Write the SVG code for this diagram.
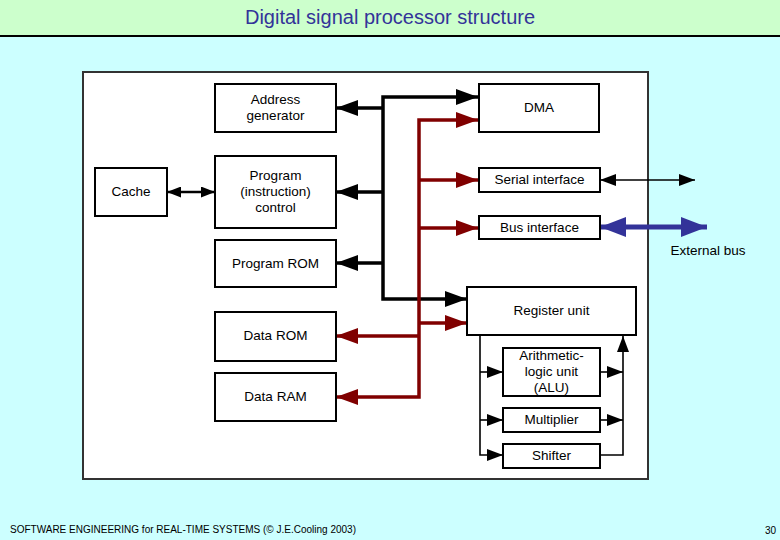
<svg xmlns="http://www.w3.org/2000/svg" width="780" height="540" viewBox="0 0 780 540">
<style>
text{font-family:"Liberation Sans",Arial,sans-serif;font-size:13.5px;fill:#000;text-anchor:middle;dominant-baseline:central}
.box{fill:#fff;stroke:#000;stroke-width:2}
.bk{fill:none;stroke:#000;stroke-width:3.5}
.rd{fill:none;stroke:#800000;stroke-width:3.5}
.th{fill:none;stroke:#000;stroke-width:1.6}
</style>
<defs>
<marker id="ab" markerUnits="userSpaceOnUse" viewBox="0 0 22 16" refX="22" refY="8" markerWidth="22" markerHeight="16" orient="auto-start-reverse"><path d="M0 0L22 8L0 16z" fill="#000"/></marker>
<marker id="ar" markerUnits="userSpaceOnUse" viewBox="0 0 22 16" refX="22" refY="8" markerWidth="22" markerHeight="16" orient="auto-start-reverse"><path d="M0 0L22 8L0 16z" fill="#800000"/></marker>
<marker id="at" markerUnits="userSpaceOnUse" viewBox="0 0 16 12" refX="16" refY="6" markerWidth="16" markerHeight="12" orient="auto-start-reverse"><path d="M0 0L16 6L0 12z" fill="#000"/></marker>
<marker id="ac" markerUnits="userSpaceOnUse" viewBox="0 0 14 11" refX="14" refY="5.5" markerWidth="14" markerHeight="11" orient="auto-start-reverse"><path d="M0 0L14 5.5L0 11z" fill="#000"/></marker>
<marker id="au" markerUnits="userSpaceOnUse" viewBox="0 0 26 20" refX="26" refY="10" markerWidth="26" markerHeight="20" orient="auto-start-reverse"><path d="M0 0L26 10L0 20z" fill="#333399"/></marker>
</defs>
<rect x="0" y="0" width="780" height="540" fill="#ccffff"/>
<rect x="0" y="0" width="780" height="36" fill="#ccffcc"/>
<line x1="0" y1="36" x2="780" y2="36" stroke="#000" stroke-width="2"/>
<text x="390" y="17" style="font-size:20px;fill:#333399">Digital signal processor structure</text>
<rect x="83" y="72" width="565" height="407" fill="#fff" stroke="#333" stroke-width="2"/>

<g id="connectors">
<path fill="none" stroke="#000" stroke-width="2.5" d="M167 192H215" marker-start="url(#ac)" marker-end="url(#ac)"/>
<path class="bk" d="M478 97H383V299H467" marker-start="url(#ab)" marker-end="url(#ab)"/>
<path class="bk" d="M383 108H336" marker-end="url(#ab)"/>
<path class="bk" d="M383 192H336" marker-end="url(#ab)"/>
<path class="bk" d="M383 263H336" marker-end="url(#ab)"/>
<path class="rd" d="M478 120H419V397H336" marker-start="url(#ar)" marker-end="url(#ar)"/>
<path class="rd" d="M419 180H478" marker-end="url(#ar)"/>
<path class="rd" d="M419 228H478" marker-end="url(#ar)"/>
<path class="rd" d="M419 323H467" marker-end="url(#ar)"/>
<path class="rd" d="M419 336H336" marker-end="url(#ar)"/>
<path class="th" d="M600 180H695" marker-start="url(#at)" marker-end="url(#at)"/>
<path fill="none" stroke="#333399" stroke-width="5" d="M600 227H707" marker-start="url(#au)" marker-end="url(#au)"/>
<path class="th" d="M480 335V455H503" marker-end="url(#at)"/>
<path class="th" d="M480 372H503" marker-end="url(#at)"/>
<path class="th" d="M480 420H503" marker-end="url(#at)"/>
<path class="th" d="M600 372H623" marker-end="url(#at)"/>
<path class="th" d="M600 420H623" marker-end="url(#at)"/>
<path class="th" d="M600 455H623V336" marker-end="url(#at)"/>
</g>

<g id="cache"><rect class="box" x="95" y="168" width="72" height="48"/><text x="131" y="191">Cache</text></g>
<g id="address-generator"><rect class="box" x="215" y="84" width="121" height="48"/><text x="275.5" y="99">Address</text><text x="275.5" y="115">generator</text></g>
<g id="program-control"><rect class="box" x="215" y="156" width="121" height="72"/><text x="275.5" y="175">Program</text><text x="275.5" y="191">(instruction)</text><text x="275.5" y="207">control</text></g>
<g id="program-rom"><rect class="box" x="215" y="240" width="121" height="47"/><text x="275.5" y="263">Program ROM</text></g>
<g id="data-rom"><rect class="box" x="215" y="312" width="121" height="49"/><text x="275.5" y="335">Data ROM</text></g>
<g id="data-ram"><rect class="box" x="215" y="373" width="121" height="48"/><text x="275.5" y="396">Data RAM</text></g>
<g id="dma"><rect class="box" x="479" y="84" width="120" height="48"/><text x="539" y="107">DMA</text></g>
<g id="serial-interface"><rect class="box" x="479" y="168" width="121" height="24"/><text x="539.5" y="179">Serial interface</text></g>
<g id="bus-interface"><rect class="box" x="479" y="216" width="121" height="23"/><text x="539.5" y="227">Bus interface</text></g>
<g id="external-bus"><text x="708" y="250">External bus</text></g>
<g id="register-unit"><rect class="box" x="467" y="287" width="169" height="48"/><text x="551.5" y="310">Register unit</text></g>
<g id="alu"><rect class="box" x="503" y="348" width="97" height="48"/><text x="551.5" y="355">Arithmetic-</text><text x="551.5" y="371">logic unit</text><text x="551.5" y="387">(ALU)</text></g>
<g id="multiplier"><rect class="box" x="503" y="408" width="97" height="24"/><text x="551.5" y="419">Multiplier</text></g>
<g id="shifter"><rect class="box" x="503" y="444" width="97" height="24"/><text x="551.5" y="455">Shifter</text></g>

<text x="10" y="529" style="font-size:10px;text-anchor:start">SOFTWARE ENGINEERING for REAL-TIME SYSTEMS (© J.E.Cooling 2003)</text>
<text x="776" y="530" style="font-size:10px;text-anchor:end">30</text>
</svg>
